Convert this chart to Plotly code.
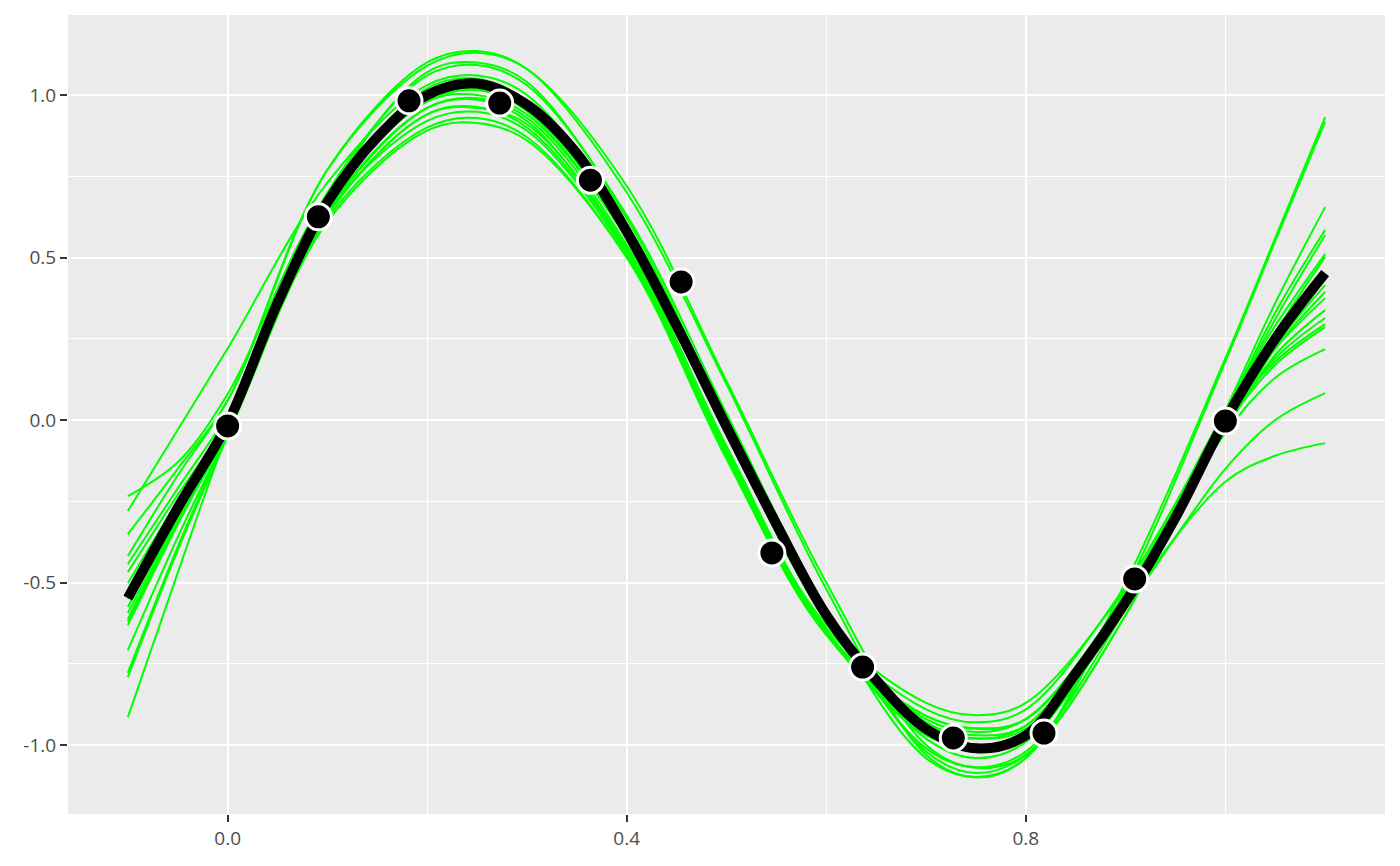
import plotly.graph_objects as go

# observed points
obs_x = [0.0, 0.0909, 0.1818, 0.2727, 0.3636, 0.4545, 0.5455, 0.6364, 0.7273, 0.8182, 0.9091, 1.0]
obs_y = [-0.018, 0.625, 0.982, 0.975, 0.738, 0.425, -0.409, -0.760, -0.978, -0.963, -0.489, -0.003]

# central fitted curve (black)
fit_x = [-0.1, -0.05, 0.0, 0.05, 0.1, 0.15, 0.2, 0.25, 0.3, 0.35, 0.4, 0.45, 0.5,
         0.55, 0.6, 0.65, 0.7, 0.75, 0.8, 0.85, 0.9, 0.95, 1.0, 1.05, 1.1]
fit_y = [-0.548, -0.27, -0.01, 0.36, 0.67, 0.87, 1.0, 1.035, 0.97, 0.82, 0.58, 0.29, -0.02,
         -0.32, -0.60, -0.80, -0.95, -1.01, -0.97, -0.78, -0.56, -0.30, 0.0, 0.25, 0.452]

# sampled curves (green), all read at the same x positions
sample_x = [-0.1, -0.05, 0.0, 0.1, 0.2, 0.25, 0.3, 0.4, 0.5, 0.6, 0.7, 0.75, 0.8, 0.9, 1.0, 1.05, 1.1]
s01 = [-0.234, -0.13, 0.08, 0.69, 0.98, 1.0, 0.94, 0.56, -0.03, -0.60, -0.94, -1.0, -0.96, -0.54, 0.01, 0.22, 0.375]
s02 = [-0.28, -0.03, 0.22, 0.73, 1.03, 1.06, 1.0, 0.60, -0.01, -0.59, -0.93, -0.98, -0.94, -0.53, 0.03, 0.29, 0.511]
s03 = [-0.351, -0.15, 0.06, 0.77, 1.10, 1.135, 1.08, 0.70, 0.11, -0.52, -1.03, -1.10, -1.04, -0.50, 0.19, 0.56, 0.932]
s04 = [-0.418, -0.17, 0.06, 0.77, 1.09, 1.13, 1.08, 0.72, 0.12, -0.50, -1.00, -1.07, -1.03, -0.60, 0.02, 0.33, 0.585]
s05 = [-0.443, -0.21, 0.02, 0.65, 0.96, 0.985, 0.92, 0.52, -0.09, -0.64, -0.89, -0.93, -0.89, -0.51, 0.0, 0.18, 0.295]
s06 = [-0.468, -0.23, 0.0, 0.67, 0.98, 1.015, 0.95, 0.56, -0.04, -0.62, -0.98, -1.04, -0.99, -0.57, 0.0, 0.23, 0.415]
s07 = [-0.502, -0.25, -0.01, 0.64, 0.92, 0.948, 0.89, 0.51, -0.10, -0.65, -0.92, -0.96, -0.92, -0.54, -0.02, 0.19, 0.314]
s08 = [-0.55, -0.27, -0.01, 0.68, 1.02, 1.05, 0.98, 0.59, -0.02, -0.60, -0.96, -1.02, -0.98, -0.56, 0.01, 0.27, 0.502]
s09 = [-0.575, -0.29, -0.03, 0.63, 0.94, 0.963, 0.90, 0.52, -0.11, -0.66, -0.91, -0.95, -0.92, -0.54, -0.03, 0.20, 0.338]
s10 = [-0.594, -0.30, -0.02, 0.70, 1.06, 1.092, 1.03, 0.63, 0.02, -0.58, -1.02, -1.086, -1.03, -0.60, 0.03, 0.36, 0.655]
s11 = [-0.612, -0.31, -0.04, 0.62, 0.90, 0.929, 0.87, 0.50, -0.10, -0.63, -0.87, -0.908, -0.87, -0.52, -0.04, 0.13, 0.218]
s12 = [-0.62, -0.32, -0.03, 0.67, 0.99, 1.02, 0.96, 0.57, -0.03, -0.61, -0.93, -0.97, -0.94, -0.56, -0.02, 0.17, 0.286]
s13 = [-0.631, -0.32, -0.02, 0.68, 1.01, 1.04, 0.98, 0.60, 0.0, -0.60, -1.01, -1.068, -1.02, -0.58, 0.02, 0.31, 0.569]
s14 = [-0.708, -0.36, -0.04, 0.61, 0.89, 0.914, 0.86, 0.50, -0.12, -0.66, -0.91, -0.948, -0.92, -0.55, -0.03, 0.22, 0.394]
s15 = [-0.778, -0.39, -0.04, 0.64, 0.96, 0.99, 0.93, 0.54, -0.08, -0.65, -0.97, -1.0, -0.97, -0.58, -0.15, 0.0, 0.083]
s16 = [-0.791, -0.40, -0.05, 0.63, 0.94, 0.96, 0.91, 0.53, -0.10, -0.66, -0.95, -0.98, -0.95, -0.56, -0.19, -0.11, -0.071]
s17 = [-0.914, -0.47, -0.04, 0.68, 1.07, 1.10, 1.04, 0.62, 0.0, -0.60, -1.04, -1.098, -1.04, -0.52, 0.18, 0.55, 0.917]
samples = [s01, s02, s03, s04, s05, s06, s07, s08, s09, s10, s11, s12, s13, s14, s15, s16, s17]

x_ticks = [0.0, 0.4, 0.8]
x_ticklabels = ["0.0", "0.4", "0.8"]
x_minor = [0.2, 0.6, 1.0]
y_ticks = [-1.0, -0.5, 0.0, 0.5, 1.0]
y_ticklabels = ["-1.0", "-0.5", "0.0", "0.5", "1.0"]
y_minor = [-0.75, -0.25, 0.25, 0.75]

fig = go.Figure()
for s in samples:
    fig.add_trace(go.Scatter(x=sample_x, y=s, mode="lines",
                             line=dict(color="#00FF00", width=2, shape="spline", smoothing=1),
                             hoverinfo="skip", showlegend=False))
fig.add_trace(go.Scatter(x=fit_x, y=fit_y, mode="lines",
                         line=dict(color="black", width=10, shape="spline", smoothing=1),
                         hoverinfo="skip", showlegend=False))
fig.add_trace(go.Scatter(x=obs_x, y=obs_y, mode="markers",
                         marker=dict(color="black", size=26, line=dict(color="white", width=3)),
                         hoverinfo="skip", showlegend=False))

axis_common = dict(
    showline=False, zeroline=False, automargin=False,
    showgrid=True, gridcolor="white", gridwidth=2,
    ticks="outside", ticklen=7, tickwidth=2, tickcolor="#333333",
    tickfont=dict(family="Open Sans", size=19, color="#4D4D4D"),
)

fig.update_layout(
    width=1400, height=866,
    margin=dict(l=68, r=15, t=15, b=52),
    plot_bgcolor="#EBEBEB", paper_bgcolor="white",
    showlegend=False,
    xaxis=dict(range=[-0.16, 1.16], tickvals=x_ticks, ticktext=x_ticklabels,
               minor=dict(tickvals=x_minor, showgrid=True, gridcolor="white", gridwidth=1, ticks=""),
               **axis_common),
    yaxis=dict(range=[-1.212, 1.246], tickvals=y_ticks, ticktext=y_ticklabels,
               minor=dict(tickvals=y_minor, showgrid=True, gridcolor="white", gridwidth=1, ticks=""),
               **axis_common),
)

fig.write_html("out.html", config={"displayModeBar": False},
               post_script="document.body.style.margin='0';")
